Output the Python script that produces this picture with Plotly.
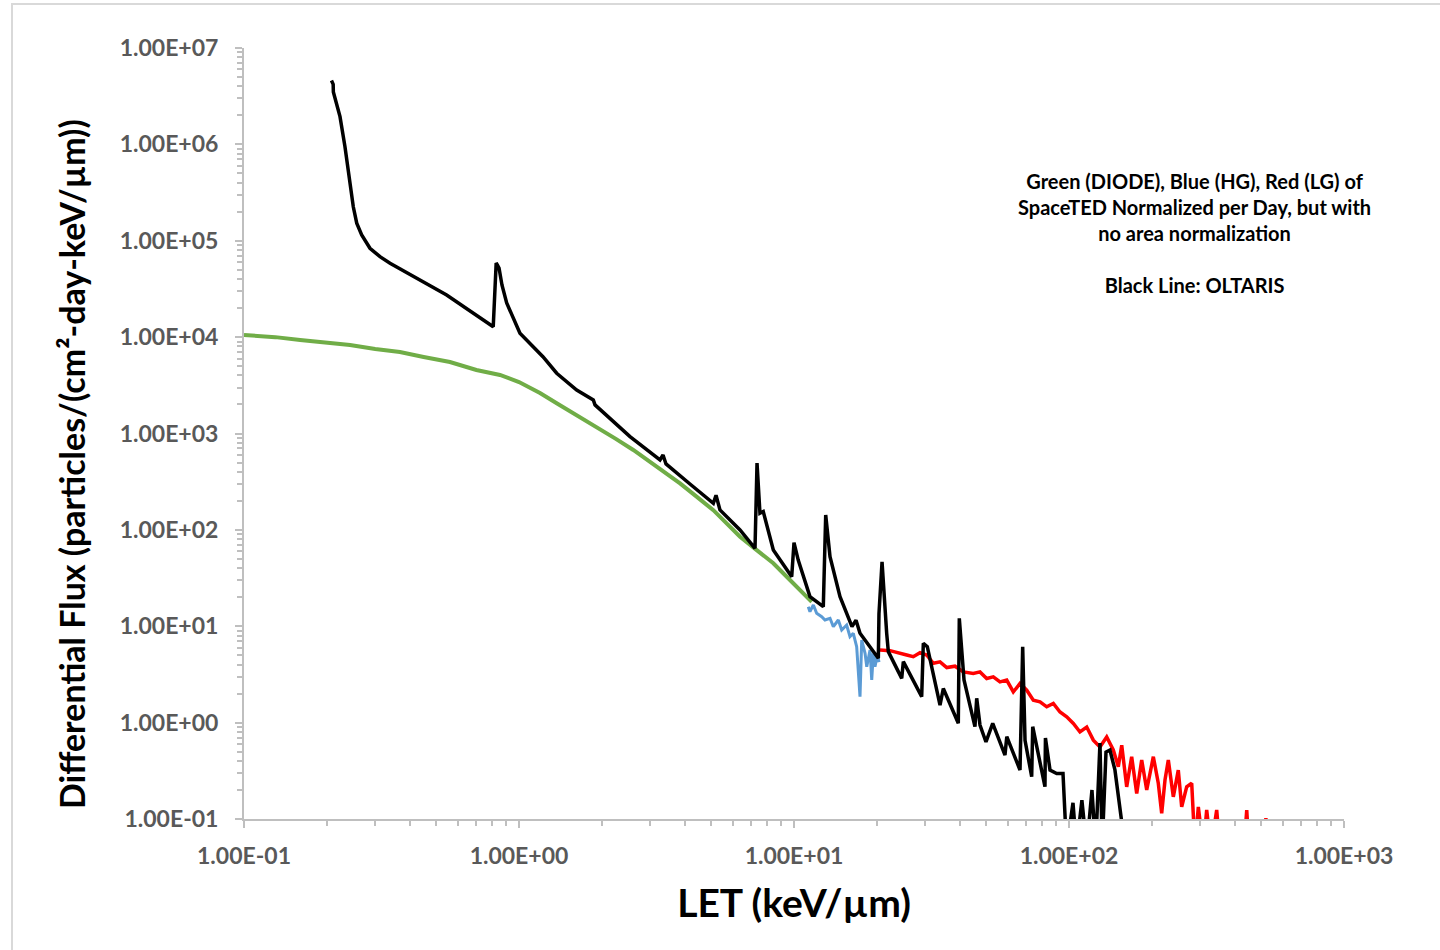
import plotly.graph_objects as go

# ---------------- data ----------------
# OLTARIS (black)
black_x = [0.208, 0.211, 0.2113, 0.218, 0.2234, 0.2329, 0.2429, 0.2497, 0.2570, 0.2679, 0.2871, 0.3122,
           0.3396, 0.4246, 0.5456, 0.806, 0.826, 0.835, 0.846, 0.867, 0.902, 1.008, 1.222, 1.371, 1.621,
           1.863, 1.89, 2.533, 3.256, 3.34, 3.424, 4.185, 5.09, 5.205, 5.38, 6.364, 7.215, 7.337, 7.52,
           7.73, 8.41, 9.81, 10.0, 10.36, 11.43, 12.78, 13.04, 13.52, 14.70, 16.25, 16.81, 17.38, 20.26,
           20.37, 20.9, 21.73, 22.03, 24.64, 24.98, 29.13, 29.53, 30.53, 33.96, 34.91, 39.58, 39.91,
           41.52, 45.5, 46.17, 47.46, 49.9, 52.8, 58.5, 59.4, 66.35, 67.85, 69.2, 73.16, 73.8, 81.77,
           82.1, 85.3, 90.2, 95.1, 98.0, 103.4, 106.5, 111.4, 116.0, 121.2, 125.0, 129.6, 132.0,
           136.3, 140.9, 146.9, 155.5, 160.0]
black_y = [4.6e6, 4.2e6, 3.5e6, 2.56e6, 1.94e6, 9.46e5, 3.64e5, 2.25e5, 1.52e5, 1.15e5, 8.36e4, 6.83e4,
           5.83e4, 4.07e4, 2.74e4, 1.28e4, 5.87e4, 5.6e4, 5.21e4, 3.48e4, 2.26e4, 1.10e4, 6.27e3, 4.22e3,
           2.82e3, 2.23e3, 1.98e3, 927, 531, 598, 483, 299, 189, 229, 161, 99.8, 64.4, 494, 149,
           155, 61.8, 32.7, 73.6, 48.6, 20.3, 16.0, 142.6, 52.7, 20.3, 9.9, 11.56, 8.47, 4.65,
           13.5, 46.5, 8.45, 5.45, 2.88, 4.29, 1.86, 6.65, 6.13, 1.52, 2.26, 0.984, 12.09,
           2.77, 0.907, 1.79, 0.945, 0.63, 0.98, 0.461, 0.714, 0.322, 6.14, 0.657, 0.275, 0.907, 0.216,
           0.693, 0.322, 0.297, 0.297, 0.05, 0.147, 0.05, 0.157, 0.05, 0.2, 0.05, 0.614, 0.05,
           0.495, 0.52, 0.323, 0.1, 0.05]

# DIODE (green)
green_x = [0.1, 0.13, 0.16, 0.2, 0.243, 0.3, 0.369, 0.45, 0.561, 0.7, 0.853, 1.0, 1.192, 1.371, 1.65,
           1.917, 2.25, 2.604, 3.1, 3.851, 4.4, 5.09, 5.7, 6.364, 7.3, 8.41, 9.67, 10.4, 11.12, 11.6]
green_y = [1.05e4, 1.0e4, 9.33e3, 8.69e3, 8.28e3, 7.53e3, 7.01e3, 6.22e3, 5.52e3, 4.56e3, 4.05e3, 3.42e3,
           2.63e3, 2.06e3, 1.51e3, 1.18e3, 879, 675, 473, 304, 224, 160, 116, 84.9, 62.1, 45.0,
           30.2, 24.4, 20.2, 17.9]

# HG (blue)
blue_x = [11.27, 11.43, 11.76, 12.09, 12.61, 12.96, 13.52, 13.90, 14.49, 14.91, 15.54, 15.98, 16.43,
          16.90, 17.38, 17.63, 18.13, 18.39, 18.90, 19.17, 19.43, 19.70, 20.09, 20.38]
blue_y = [15.96, 14.16, 16.62, 13.63, 12.57, 11.61, 12.09, 9.89, 11.61, 9.14, 10.30, 7.79, 8.45,
          6.13, 1.86, 7.20, 5.24, 3.80, 5.67, 2.77, 5.24, 3.80, 5.03, 4.24]

# LG (red)
red_x = [20.55, 22.34, 25.69, 27.15, 28.72, 30.38, 32.10, 33.96, 35.93, 38.50, 41.27, 44.87, 47.46,
         50.20, 53.05, 56.11, 59.36, 62.73, 66.35, 70.19, 74.18, 78.45, 82.97, 87.7, 92.75, 98.1,
         103.7, 109.6, 116.0, 122.6, 129.6, 137.1, 144.9, 151.1, 155.5, 162.1, 169.0, 176.3, 183.8,
         191.7, 202.6, 211.2, 217.3, 223.4, 229.7, 239.5, 249.7, 256.9, 267.9, 279.4, 287.2, 295.3,
         307.9, 316.7, 328.4, 344.4, 354.0, 433.0, 442.9, 451.3, 510.0, 520.0, 530.0]
red_y = [5.67, 5.58, 5.03, 4.83, 5.32, 5.03, 4.13, 4.27, 3.73, 3.85, 3.36, 3.24, 3.36,
         2.87, 2.98, 2.65, 2.76, 2.08, 2.55, 2.17, 1.71, 1.64, 1.46, 1.58, 1.29, 1.15,
         0.98, 0.80, 0.90, 0.658, 0.56, 0.711, 0.52, 0.349, 0.583, 0.2155, 0.443, 0.184, 0.41,
         0.2, 0.443, 0.2347, 0.1146, 0.254, 0.41, 0.1696, 0.322, 0.1335, 0.2155, 0.2347, 0.05, 0.1335,
         0.05, 0.124, 0.05, 0.124, 0.05, 0.05, 0.124, 0.05, 0.05, 0.102, 0.05]

x_tick_vals = [0.1, 1, 10, 100, 1000]
x_tick_text = ["1.00E-01", "1.00E+00", "1.00E+01", "1.00E+02", "1.00E+03"]
y_tick_vals = [0.1, 1, 10, 100, 1e3, 1e4, 1e5, 1e6, 1e7]
y_tick_text = ["1.00E-01", "1.00E+00", "1.00E+01", "1.00E+02", "1.00E+03",
               "1.00E+04", "1.00E+05", "1.00E+06", "1.00E+07"]

y_title = "Differential Flux (particles/(cm²-day-keV/µm))"
note_text = ("Green (DIODE), Blue (HG), Red (LG) of<br>SpaceTED Normalized per Day, but with<br>"
             "no area normalization<br><br>Black Line: OLTARIS")

# ---------------- figure ----------------
FONT = "Lato, 'Open Sans', sans-serif"
AXIS_GRAY = "#bfbfbf"
LABEL_GRAY = "#595959"

x_minor = [m * 10 ** e for e in range(-1, 3) for m in range(2, 10)]
y_minor = [m * 10 ** e for e in range(-1, 7) for m in range(2, 10)]

fig = go.Figure()
fig.add_trace(go.Scatter(x=green_x, y=green_y, mode="lines", line=dict(color="#70ad47", width=4),
                         name="DIODE", showlegend=False))
fig.add_trace(go.Scatter(x=blue_x, y=blue_y, mode="lines", line=dict(color="#5b9bd5", width=3),
                         name="HG", showlegend=False))
fig.add_trace(go.Scatter(x=red_x, y=red_y, mode="lines", line=dict(color="#ff0000", width=3.5),
                         name="LG", showlegend=False))
fig.add_trace(go.Scatter(x=black_x, y=black_y, mode="lines", line=dict(color="#000000", width=3.5),
                         name="OLTARIS", showlegend=False))

fig.update_layout(
    width=1440, height=950,
    margin=dict(l=244, r=96, t=48, b=131),
    paper_bgcolor="white", plot_bgcolor="white",
    font=dict(family=FONT),
    xaxis=dict(
        type="log", range=[-1, 3], showgrid=False, zeroline=False,
        showline=True, linecolor=AXIS_GRAY, linewidth=2,
        ticks="outside", ticklen=7, tickwidth=1.5, tickcolor=AXIS_GRAY,
        tickmode="array", tickvals=x_tick_vals, ticktext=x_tick_text,
        tickfont=dict(family=FONT, size=23, color=LABEL_GRAY, weight=700),
        ticklabelstandoff=8,
        minor=dict(tickmode="array", tickvals=x_minor, ticks="outside", ticklen=5,
                   tickwidth=1.5, tickcolor=AXIS_GRAY, showgrid=False),
        title=dict(text="LET (keV/µm)", font=dict(family=FONT, size=39, color="black", weight=700),
                   standoff=22),
    ),
    yaxis=dict(
        type="log", range=[-1, 7], showgrid=False, zeroline=False,
        showline=True, linecolor=AXIS_GRAY, linewidth=2,
        ticks="outside", ticklen=7, tickwidth=1.5, tickcolor=AXIS_GRAY,
        tickmode="array", tickvals=y_tick_vals, ticktext=y_tick_text,
        tickfont=dict(family=FONT, size=23, color=LABEL_GRAY, weight=700),
        ticklabelstandoff=12,
        minor=dict(tickmode="array", tickvals=y_minor, ticks="outside", ticklen=5,
                   tickwidth=1.5, tickcolor=AXIS_GRAY, showgrid=False),
    ),
    annotations=[
        dict(x=0.8645, y=0.846, xref="paper", yref="paper", xanchor="center", yanchor="top",
             text=note_text, showarrow=False, align="center",
             font=dict(family=FONT, size=20, color="black", weight=700)),
        dict(x=-0.1573, y=0.4604, xref="paper", yref="paper", xanchor="center", yanchor="middle",
             text=y_title, textangle=-90, showarrow=False,
             font=dict(family=FONT, size=34, color="black", weight=700)),
    ],
    shapes=[dict(type="rect", xref="paper", yref="paper", x0=-0.2109, x1=1.1, y0=-0.2, y1=1.0571,
                 line=dict(color="#d9d9d9", width=2), layer="below")],
)

fig.write_html("out.html")
